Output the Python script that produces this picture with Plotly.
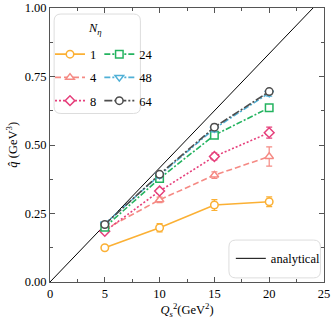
import plotly.graph_objects as go

qs2 = [5, 10, 15, 20]
n_eta = ["1", "4", "8", "24", "48", "64"]
qhat = {
    "1": [0.125, 0.198, 0.281, 0.293],
    "4": [0.192, 0.300, 0.390, 0.458],
    "8": [0.185, 0.332, 0.458, 0.545],
    "24": [0.200, 0.378, 0.536, 0.636],
    "48": [0.212, 0.390, 0.560, 0.690],
    "64": [0.210, 0.393, 0.565, 0.695],
}
qhat_err = {
    "1": [0.006, 0.015, 0.020, 0.018],
    "4": [0.006, 0.010, 0.012, 0.035],
    "8": [0.006, 0.008, 0.012, 0.020],
    "24": [0.005, 0.008, 0.010, 0.010],
    "48": [0.005, 0.010, 0.012, 0.012],
    "64": [0.005, 0.008, 0.010, 0.010],
}
analytical_x = [0, 25]
analytical_y = [0, 25 / 24]

colors = {"1": "#fbb034", "4": "#f58a84", "8": "#e6407c",
          "24": "#23b35f", "48": "#4fb0d6", "64": "#4d4d4d"}
symbols = {"1": "circle", "4": "triangle-up", "8": "diamond",
           "24": "square", "48": "triangle-down", "64": "circle"}
dashes = {"1": "solid", "4": "6px,3px", "8": "2px,2px",
          "24": "6px,2px,2px,2px", "48": "6px,2px,2px,2px", "64": "8px,2px,2px,2px"}
legend_of = {"1": "legend", "4": "legend", "8": "legend",
             "24": "legend2", "48": "legend2", "64": "legend2"}

FONT = "Liberation Serif, Times New Roman, serif"


def rounded_box(x0, x1, y0, y1, r=0.025):
    return (f"M {x0+r},{y0} L {x1-r},{y0} Q {x1},{y0} {x1},{y0+r} "
            f"L {x1},{y1-r} Q {x1},{y1} {x1-r},{y1} L {x0+r},{y1} "
            f"Q {x0},{y1} {x0},{y1-r} L {x0},{y0+r} Q {x0},{y0} {x0+r},{y0} Z")


fig = go.Figure()

fig.add_trace(go.Scatter(x=analytical_x, y=analytical_y, mode="lines",
                         line=dict(color="black", width=1), name="analytical",
                         legend="legend3", cliponaxis=True))

for n in n_eta:
    c = colors[n]
    fig.add_trace(go.Scatter(
        x=qs2, y=qhat[n], mode="lines+markers", name=n,
        legend=legend_of[n], legendgroup=n,
        line=dict(color=c, width=1.6, dash=dashes[n]),
        marker=dict(symbol=symbols[n], size=7.5, color="white",
                    line=dict(color=c, width=1.5)),
        error_y=dict(type="data", array=qhat_err[n], color=c, thickness=1.2, width=3),
    ))

legend_common = dict(bgcolor="rgba(0,0,0,0)", borderwidth=0,
                     font=dict(family=FONT, size=12.5, color="black"),
                     tracegroupgap=4, xanchor="left", yanchor="top",
                     itemwidth=30)

fig.update_layout(
    width=332, height=323,
    margin=dict(l=50, r=8, t=8, b=41, autoexpand=False),
    paper_bgcolor="white", plot_bgcolor="white",
    font=dict(family=FONT, size=12.5, color="black"),
    showlegend=True,
    legend=dict(x=0.0, y=0.885, **legend_common),
    legend2=dict(x=0.18, y=0.885, **legend_common),
    legend3=dict(x=0.66, y=0.085, xanchor="left", yanchor="middle",
                 bgcolor="rgba(0,0,0,0)", borderwidth=0,
                 font=dict(family=FONT, size=12.5, color="black")),
    xaxis=dict(range=[0, 25], tickvals=[0, 5, 10, 15, 20, 25], automargin=False,
               ticks="inside", ticklen=5, tickcolor="#555", mirror="ticks",
               showline=True, linecolor="#555", linewidth=1, showgrid=False,
               zeroline=False,
               minor=dict(tickvals=[2.5, 7.5, 12.5, 17.5, 22.5], ticks="inside",
                          ticklen=3, tickcolor="#555"),
               title=dict(text="<i>Q<sub>s</sub></i><sup>2</sup>(GeV<sup>2</sup>)",
                          standoff=0, font=dict(size=12.5))),
    yaxis=dict(range=[0, 1], tickvals=[0, 0.25, 0.5, 0.75, 1.0], automargin=False,
               ticktext=["0.00", "0.25", "0.50", "0.75", "1.00"],
               ticks="inside", ticklen=5, tickcolor="#555", mirror="ticks",
               showline=True, linecolor="#555", linewidth=1, showgrid=False,
               zeroline=False,
               minor=dict(tickvals=[0.125, 0.375, 0.625, 0.875], ticks="inside",
                          ticklen=3, tickcolor="#555")),
    shapes=[
        dict(type="path", xref="paper", yref="paper",
             path=rounded_box(0.015, 0.33, 0.615, 0.978),
             line=dict(color="#dddddd", width=1), fillcolor="rgba(255,255,255,0.8)",
             layer="below"),
        dict(type="path", xref="paper", yref="paper",
             path=rounded_box(0.653, 0.987, 0.015, 0.153),
             line=dict(color="#dddddd", width=1), fillcolor="rgba(255,255,255,0.8)",
             layer="below"),
    ],
    annotations=[
        dict(text="<i>N<sub>η</sub></i>", x=0.165, y=0.96, xref="paper", yref="paper",
             showarrow=False, xanchor="center", yanchor="top",
             font=dict(family=FONT, size=12.5)),
        dict(text="<i>q&#770;</i> (GeV<sup>3</sup>)", x=-0.14, y=0.5, xref="paper",
             yref="paper", showarrow=False, textangle=-90, xanchor="center",
             yanchor="middle", font=dict(family=FONT, size=12.5)),
    ],
)

fig.write_html("out.html", config={"displayModeBar": False},
               post_script="document.body.style.margin='0';document.body.style.padding='0';")
